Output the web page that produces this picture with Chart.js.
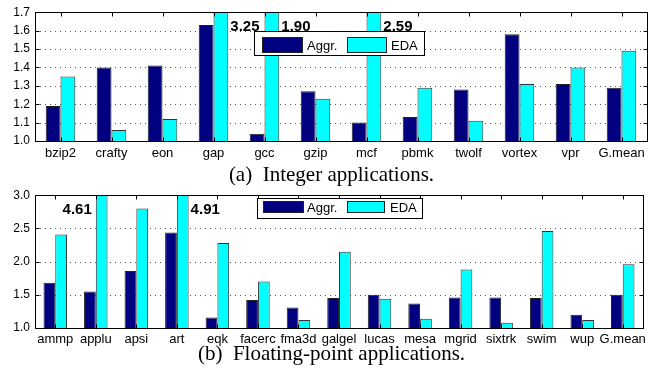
<!DOCTYPE html>
<html><head><meta charset="utf-8">
<script src="https://cdn.jsdelivr.net/npm/chart.js@4/dist/chart.umd.min.js"></script>
<style>
html,body{margin:0;padding:0;background:#fff;width:663px;height:368px;overflow:hidden;}
canvas{position:absolute;left:0;}
.cap{position:absolute;left:0;width:663px;text-align:center;font-family:"Liberation Serif","Times New Roman",serif;font-size:21px;line-height:21px;color:#000;white-space:pre;}
</style></head><body>
<canvas id="c1" width="663" height="168" style="top:0px"></canvas>
<canvas id="c2" width="663" height="165" style="top:183px"></canvas>
<div class="cap" style="top:164px">(a)  Integer applications.</div>
<div class="cap" style="top:343px">(b)  Floating-point applications.</div>
<script>
// ---- data ----
const seriesNames = ['Aggr.', 'EDA'];

const intCategories = ['bzip2','crafty','eon','gap','gcc','gzip','mcf','pbmk','twolf','vortex','vpr','G.mean'];
const intAggr = [1.19,1.40,1.41,1.63,1.04,1.27,1.10,1.13,1.28,1.58,1.31,1.29];
const intEDA  = [1.35,1.06,1.12,3.25,1.90,1.23,2.59,1.29,1.11,1.31,1.40,1.49];
const intYTicks = [1.0,1.1,1.2,1.3,1.4,1.5,1.6,1.7];

const fpCategories = ['ammp','applu','apsi','art','eqk','facerc','fma3d','galgel','lucas','mesa','mgrid','sixtrk','swim','wup','G.mean'];
const fpAggr = [1.68,1.55,1.86,2.44,1.16,1.42,1.31,1.45,1.50,1.37,1.46,1.46,1.45,1.20,1.50];
const fpEDA  = [2.41,4.61,2.80,4.91,2.28,1.70,1.12,2.15,1.44,1.14,1.88,1.08,2.46,1.12,1.96];
const fpYTicks = [1.0,1.5,2.0,2.5,3.0];

// ---- styling ----
const NAVY = '#000080', CYAN = '#00ffff';
const SANS = '"Liberation Sans", Arial, Helvetica, sans-serif';

const framePlugin = {
  id: 'frame',
  beforeDatasetsDraw(chart, args, o) {
    const ctx = chart.ctx, a = chart.chartArea, y = chart.scales.y;
    ctx.save();
    ctx.strokeStyle = '#555';
    ctx.lineWidth = 1;
    ctx.setLineDash([1, 4]);
    y.ticks.forEach(t => {
      if (t.value <= y.min || t.value >= y.max) return;
      const py = Math.round(y.getPixelForValue(t.value)) + 0.5;
      ctx.beginPath(); ctx.moveTo(a.left, py); ctx.lineTo(a.right, py); ctx.stroke();
    });
    ctx.restore();
  },
  afterDatasetsDraw(chart, args, o) {
    const ctx = chart.ctx, a = chart.chartArea, x = chart.scales.x, y = chart.scales.y;
    ctx.save();
    // frame
    ctx.strokeStyle = '#000'; ctx.lineWidth = 1; ctx.setLineDash([]);
    const L = Math.round(a.left) + 0.5, R = Math.round(a.right) + 0.5, T = Math.round(a.top) + 0.5, B = Math.round(a.bottom) + 0.5;
    ctx.strokeRect(L, T, R - L, B - T);
    // tick marks (inward)
    ctx.beginPath();
    x.ticks.forEach((t, i) => {
      const px = Math.round(x.getPixelForTick(i)) + 0.5;
      ctx.moveTo(px, T); ctx.lineTo(px, T + 4);
      ctx.moveTo(px, B); ctx.lineTo(px, B - 4);
    });
    y.ticks.forEach(t => {
      const py = Math.round(y.getPixelForValue(t.value)) + 0.5;
      ctx.moveTo(R, py); ctx.lineTo(R - 4, py);
      ctx.moveTo(L, py); ctx.lineTo(L + 4, py);
    });
    ctx.stroke();
    // labels for clipped bars
    const meta = chart.getDatasetMeta(1);
    const vals = chart.data.datasets[1].data;
    ctx.font = 'bold 15px ' + SANS;
    ctx.fillStyle = '#000';
    ctx.textBaseline = 'alphabetic';
    vals.forEach((v, i) => {
      if (v <= y.max) return;
      const bar = meta.data[i];
      const side = (o.leftSide || []).includes(i) ? 'left' : 'right';
      const ty = a.top + 19;
      if (side === 'left') {
        ctx.textAlign = 'right';
        ctx.fillText(v.toFixed(2), bar.x - bar.width / 2 - 4, ty);
      } else {
        ctx.textAlign = 'left';
        ctx.fillText(v.toFixed(2), bar.x + bar.width / 2 + 2, ty);
      }
    });
    // legend
    const g = o.legend;
    ctx.fillStyle = '#fff';
    ctx.fillRect(g.x0, g.y0, g.x1 - g.x0, g.y1 - g.y0);
    ctx.strokeStyle = '#000';
    ctx.strokeRect(g.x0 + 0.5, g.y0 + 0.5, g.x1 - g.x0, g.y1 - g.y0);
    const ds = chart.data.datasets;
    ctx.font = '13px ' + SANS;
    ctx.textAlign = 'left'; ctx.textBaseline = 'middle';
    g.items.forEach((it, k) => {
      ctx.fillStyle = ds[k].backgroundColor;
      ctx.fillRect(it.sx, g.sy0, it.sw, g.sy1 - g.sy0);
      ctx.strokeStyle = '#222';
      ctx.strokeRect(it.sx + 0.5, g.sy0 + 0.5, it.sw - 1, g.sy1 - g.sy0 - 1);
      ctx.fillStyle = '#000';
      ctx.fillText(ds[k].label, it.tx, (g.sy0 + g.sy1) / 2 + 1);
    });
    ctx.restore();
  }
};

function makeChart(id, cats, aggr, eda, yTicks, geo, frameOpts) {
  const yMin = yTicks[0], yMax = yTicks[yTicks.length - 1];
  return new Chart(document.getElementById(id), {
    type: 'bar',
    data: {
      labels: cats,
      datasets: [
        { label: seriesNames[0], data: aggr, backgroundColor: NAVY, borderColor: '#222', borderWidth: 1 },
        { label: seriesNames[1], data: eda, backgroundColor: CYAN, borderColor: '#333', borderWidth: 1 }
      ]
    },
    options: {
      responsive: false,
      animation: false,
      events: [],
      categoryPercentage: 0.58,
      barPercentage: 1.0,
      layout: { padding: { left: 0, right: geo.right, top: geo.top, bottom: 0 } },
      plugins: { legend: { display: false }, tooltip: { enabled: false }, frame: frameOpts },
      scales: {
        x: {
          grid: { display: false, drawTicks: false },
          border: { display: false },
          ticks: { color: '#000', font: { family: SANS, size: 13 }, padding: geo.xPad, maxRotation: 0, autoSkip: false },
          afterFit: s => { s.height = geo.xH; }
        },
        y: {
          min: yMin, max: yMax,
          grid: { display: false, drawTicks: false },
          border: { display: false },
          afterBuildTicks: s => { s.ticks = yTicks.map(v => ({ value: v })); },
          ticks: { color: '#000', font: { family: SANS, size: 12 }, padding: 5, callback: v => Number(v).toFixed(1) },
          afterFit: s => { s.width = geo.yW; }
        }
      }
    },
    plugins: [framePlugin]
  });
}

makeChart('c1', intCategories, intAggr, intEDA, intYTicks,
  { right: 16, top: 9, xH: 27, yW: 35, xPad: 5 },
  { leftSide: [], legend: { x0: 254, y0: 31, x1: 424, y1: 55, sy0: 37, sy1: 53,
    items: [ { sx: 262, sw: 41, tx: 307 }, { sx: 347, sw: 40, tx: 391 } ] } });

makeChart('c2', fpCategories, fpAggr, fpEDA, fpYTicks,
  { right: 20, top: 12, xH: 20, yW: 35, xPad: 4 },
  { leftSide: [1], legend: { x0: 257, y0: 15, x1: 422, y1: 35, sy0: 18, sy1: 30,
    items: [ { sx: 263, sw: 41, tx: 307 }, { sx: 347, sw: 38, tx: 390 } ] } });
</script>
</body></html>
